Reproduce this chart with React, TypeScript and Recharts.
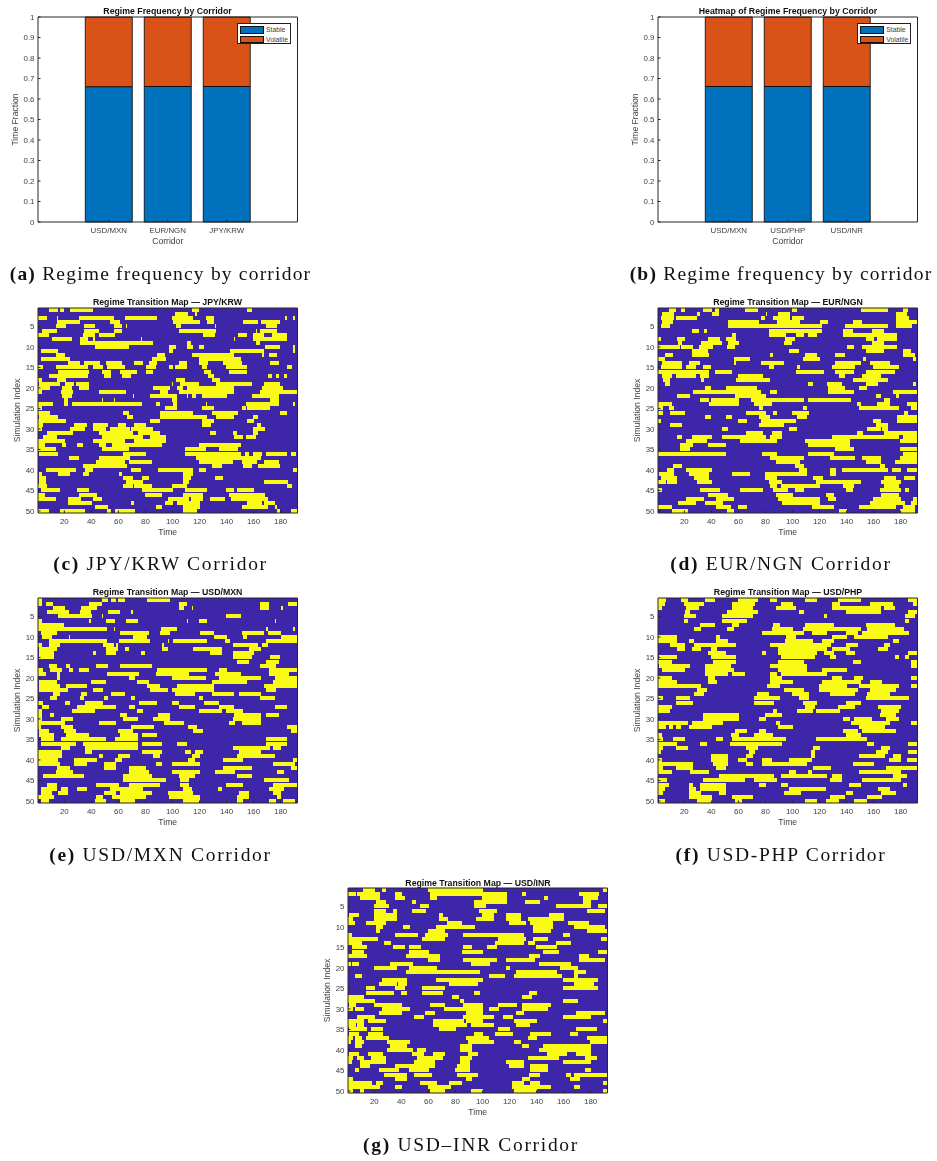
import React from 'react';
import { BarChart, Bar, XAxis, YAxis, CartesianGrid } from 'recharts';

// stacked bars
const CORRIDORS_A = ['USD/MXN', 'EUR/NGN', 'JPY/KRW'];
const CORRIDORS_B = ['USD/MXN', 'USD/PHP', 'USD/INR'];
const STABLE_A = [0.66, 0.661, 0.661];
const VOLATILE_A = [0.34, 0.339, 0.339];
const STABLE_B = [0.661, 0.661, 0.661];
const VOLATILE_B = [0.339, 0.339, 0.339];

const FRACTION_TICKS = [0, 0.1, 0.2, 0.3, 0.4, 0.5, 0.6, 0.7, 0.8, 0.9, 1];
const TIME_TICKS = [20, 40, 60, 80, 100, 120, 140, 160, 180];
const SIM_TICKS = [5, 10, 15, 20, 25, 30, 35, 40, 45, 50];

// volatile spells per simulation, flat start,end pairs
const JPY_KRW: number[][] = [
  [9,15,17,19,25,41,115,119,156,158],
  [102,111,117,118],
  [1,7,15,15,31,56,65,88,100,115,125,130,184,184,190,190],
  [15,31,54,61,101,120,126,130,153,163,166,179],
  [14,21,35,42,57,62,66,66,103,106,132,132,170,177],
  [4,14,35,45,57,62,105,132,162,162,165,177],
  [1,8,34,42,46,57,123,131,149,155,160,167,174,184],
  [11,25,32,37,42,42,77,77,146,146,160,184],
  [32,85,111,113,162,164],
  [43,62,63,67,98,102,111,115,120,123,169,179,190,190],
  [3,15,98,100,143,167,190,190],
  [14,20,89,94,115,145,167,167,172,177],
  [3,24,85,95,120,150],
  [23,31,35,46,51,62,72,78,83,88,105,110,120,126,138,151,173,178],
  [1,4,14,37,42,48,52,64,81,87,98,100,102,110,122,125,140,155,185,188],
  [16,38,48,54,62,73,81,85,124,128,142,155],
  [9,37,50,54,63,69,127,130,171,173,177,178,183,184],
  [1,3,15,21,103,109,130,135],
  [2,16,21,27,29,38,100,100,106,119,133,158,168,179],
  [1,9,19,25,31,38,86,98,104,107,111,145,167,181],
  [1,3,18,26,46,65,91,96,105,145,165,192],
  [19,25,71,71,84,103,111,111,115,117,122,140,159,178],
  [20,22,48,48,57,57,100,103,173,178],
  [1,11,20,22,26,77,88,90,101,103,125,125,155,178,190,190],
  [1,3,95,103,122,130,152,154,156,172],
  [1,9,64,67,91,115,130,148,180,184],
  [2,15,67,70,91,125,133,145,160,163],
  [1,21,84,90,122,130,156,160],
  [1,4,28,36,42,52,60,65,72,80,122,128,163,165],
  [1,3,25,35,42,50,54,68,70,85,160,168],
  [8,26,46,70,75,90,128,132,145,147,160,163],
  [5,14,48,78,84,95,146,152,155,161],
  [1,20,42,64,72,95],
  [1,5,19,21,30,33,46,50,56,92,120,150],
  [1,13,48,67,110,124,135,148],
  [2,15,64,80,110,150,154,156,160,166,170,184,188,191],
  [24,30,46,68,118,165],
  [44,64,68,84,120,144,152,162,168,178],
  [34,66,130,136,153,158,164,179],
  [7,28,36,41,70,76,90,115,120,124,190,192],
  [2,3,16,24,34,38,61,62,108,115],
  [2,6,64,70,78,82,108,113,132,137],
  [2,6,66,78,108,112,168,185],
  [1,7,64,70,72,84,100,110,185,188],
  [3,16,30,38,78,100,110,125,140,145,148,160],
  [1,5,31,44,80,92,108,122,142,168],
  [1,13,23,32,42,47,97,112,114,122,128,138,144,170],
  [23,40,70,71,95,100,104,120,156,166,168,175],
  [43,52,88,92,108,120,152,170,176,177],
  [1,8,17,35,52,54,58,72,108,118,178,179,188,192],
];

const EUR_NGN: number[][] = [
  [9,13,18,20,34,40,43,45,65,74,100,103,151,170,182,185],
  [4,12,30,31,41,45,81,81,90,98,177,184],
  [3,12,14,29,77,79,86,98,100,108,177,186],
  [4,11,53,75,89,105,121,126,145,151,177,192],
  [3,9,53,121,139,170,177,188],
  [26,30,35,36,83,121,138,144,159,167],
  [56,58,83,95,103,108,112,118,138,177],
  [1,2,15,20,38,46,51,58,95,101,155,160,163,177],
  [16,18,33,47,53,60,94,99,159,167],
  [1,16,18,26,31,41,52,57,141,145,152,177],
  [26,37,98,104,155,167,182,187],
  [6,11,26,38,84,85,110,118,132,138,182,190],
  [1,5,57,68,108,120,153,154,190,191],
  [4,18,24,31,57,58,77,93,132,150,158,172],
  [3,18,22,28,34,39,83,86,104,105,130,146,160,178],
  [1,20,21,38,43,55,103,123,132,145,155,175],
  [4,10,14,28,32,38,60,78,135,138,152,165],
  [5,9,33,34,59,83,145,170],
  [6,9,112,115,126,136,155,163,190,191],
  [36,39,51,73,127,138,150,155],
  [27,55,56,76,84,88,127,145,175,192],
  [15,24,58,80,162,165,177,178],
  [32,38,40,60,70,108,112,143,168,172],
  [1,10,39,60,72,84,148,150,163,172,185,192],
  [1,4,9,12,76,78,108,110,150,178,188,192],
  [1,4,10,20,66,80,86,88,100,112,183,185],
  [36,39,51,55,76,83,104,110,178,192],
  [1,2,60,66,77,102,160,165,178,192],
  [10,18,76,93,162,170],
  [48,52,98,103,156,165,167,170],
  [66,78,85,92,148,152,168,192],
  [15,18,26,40,48,80,84,92,130,178,182,192],
  [22,36,62,88,110,142,180,192],
  [17,26,38,50,112,142],
  [17,24,132,145,180,192],
  [1,36,36,50,78,88,112,130,182,192],
  [84,108,128,146,152,165,180,192],
  [88,105,155,165,176,192],
  [12,18,102,108,165,168],
  [8,12,22,40,105,110,128,132,137,170,174,180,185,192],
  [2,12,24,38,56,68,80,110,128,132],
  [3,14,28,38,80,88,116,122,168,176,183,190],
  [1,6,8,14,30,40,83,92,118,150,166,180],
  [84,88,92,120,138,145,168,178],
  [1,3,32,46,62,78,86,96,102,108,140,144,165,180,184,186],
  [38,52,88,100,125,130,166,178],
  [22,34,44,56,90,120,127,132,160,180,190,192],
  [16,28,36,48,93,120,158,183,188,192],
  [1,10,44,54,60,66,115,130,150,176,182,190],
  [11,22,52,56,135,140,180,190],
];

const USD_MXN: number[][] = [
  [1,3,48,52,55,58,60,64,82,98],
  [1,3,7,11,39,47,105,110,165,171,186,192],
  [12,20,33,44,105,108,115,115,165,171,181,181],
  [8,23,32,39,53,61,70,70],
  [16,40,48,48,140,150],
  [1,3,39,39,51,57,66,74,111,111,120,125,176,176],
  [1,19],
  [1,40,41,51,57,57,92,103,170,170,190,190],
  [3,14,62,82,91,98,121,130,152,167,171,180],
  [4,10,24,24,71,81,131,140,153,155,181,192],
  [9,51,61,83,97,97,101,125,139,142,170,192],
  [1,3,9,16,49,56,59,59,93,93,145,163,167,170],
  [2,14,51,59,65,67,93,96,116,136,157,165],
  [2,12,42,43,51,58,77,79,128,136,145,160],
  [2,12,145,158,173,179],
  [148,156,170,178],
  [9,14,22,24,44,52,62,84,165,176],
  [1,4,10,18,24,26,31,38,89,125,135,140,172,192],
  [1,6,15,16,52,75,88,112,132,150,172,186],
  [15,16,68,72,100,124,135,165,176,192],
  [2,14,40,50,74,82,130,155,175,192],
  [2,16,22,36,82,90,104,130,168,192],
  [2,22,42,48,84,96,100,130,170,176],
  [12,16,33,36,55,64,102,116,130,145,150,165],
  [10,14,32,34,50,52,70,72,120,122,165,175],
  [1,4,21,24,36,48,76,88,100,104,124,134],
  [4,8,30,58,68,72,105,116,135,145,176,184],
  [1,3,26,42,74,78,120,136,140,152],
  [1,3,10,12,62,66,90,98,146,165,170,178],
  [1,3,18,26,64,74,86,98,145,165],
  [1,20,46,58,94,108,142,146,152,165],
  [1,2,18,26,70,86,112,118,185,192],
  [2,8,20,28,60,70,116,122,188,192],
  [2,12,22,38,62,74,78,88],
  [3,12,18,50,58,74,170,184],
  [3,28,34,74,78,92,104,110,170,184],
  [18,24,36,74,145,172,175,180],
  [1,18,36,40,78,92,110,113,117,122,150,165],
  [1,18,46,48,60,68,86,90,115,120,148,175],
  [1,15,28,44,58,62,112,116,138,152,190,192],
  [1,16,28,36,50,58,88,92,100,120,175,190],
  [15,24,50,58,68,80,138,158,188,192],
  [14,26,68,82,100,120,132,146,178,182],
  [5,34,64,84,105,116,148,158],
  [64,95,106,112,168,186],
  [8,14,44,60,68,90,106,112,140,152,175,192],
  [3,14,18,22,30,36,54,78,108,114,134,136,172,182],
  [3,10,16,22,50,58,62,84,97,115,150,156,175,180],
  [1,12,44,48,56,80,98,120,148,156,178,180],
  [3,8,43,50,62,72,108,120,148,152,172,176,182,190],
];

const USD_PHP: number[][] = [
  [1,6,18,22,36,42,60,74,84,88,110,118,134,150,186,192],
  [1,5,20,34,56,72,92,100,130,135,158,174,190,192],
  [1,3,22,30,56,70,88,102,130,165,168,175],
  [21,24,52,74,105,108,140,165,186,192],
  [20,28,48,70,124,125,184,190],
  [20,22,48,66,184,186],
  [32,42,56,60,86,90,110,130,155,175],
  [28,32,52,56,85,100,108,150,156,182],
  [78,108,115,125,140,148,152,186],
  [1,14,44,46,96,102,130,140,146,170],
  [1,14,24,27,44,52,95,115,122,130,175,178],
  [10,20,28,58,84,128,140,148,168,172],
  [15,20,26,32,40,44,90,125,130,142,164,170],
  [38,50,78,80,90,118,124,130,140,146,186,192],
  [2,14,40,58,92,116,128,132,176,178,184,186],
  [1,10,42,58,90,108,145,150,188,192],
  [2,24,36,54,84,110,188,192],
  [4,20,36,56,90,110,122,140],
  [36,52,56,64,84,88,92,125],
  [1,10,38,42,84,92,130,136,146,152,188,192],
  [1,14,38,44,84,100,122,150,158,166],
  [1,32,82,90,120,140,150,178,188,192],
  [30,36,94,108,120,148,158,176],
  [28,34,74,82,100,112,128,146,156,172],
  [1,4,14,24,72,90,105,112,155,186],
  [14,26,72,86,108,118,140,150],
  [1,10,110,116,134,146,164,180],
  [1,9,86,88,104,115,118,135,166,178],
  [34,60,80,92,165,176],
  [34,60,76,80,138,142,146,158,170,178],
  [1,22,26,48,88,90,144,172,188,192],
  [1,6,9,11,14,17,24,40,90,100,150,168],
  [58,66,76,80,138,148,152,176],
  [1,3,55,60,72,85,140,150],
  [1,4,12,20,44,48,56,95,118,155],
  [1,14,32,36,54,92,156,160,186,192],
  [1,4,14,22,66,74,116,120,166,172],
  [1,2,68,72,114,116,162,170,186,192],
  [40,52,66,70,114,116,150,168,175,180],
  [1,3,40,52,60,66,78,84,98,114,172,180,185,192],
  [1,26,42,52,66,70,78,110,145,160],
  [1,4,14,26,44,50,116,128,170,192],
  [1,10,25,38,98,102,112,114,150,180],
  [46,86,92,125,130,136,175,184],
  [1,7,34,64,72,88,128,136,152,180],
  [1,8,24,26,32,50,76,80,92,96,142,150,182,184],
  [1,5,24,28,32,50,98,124,164,172],
  [1,4,24,32,46,50,94,106,140,144,166,176],
  [24,40,56,70,128,138,156,166],
  [2,5,30,40,58,62,110,118,125,134,146,155],
];

const USD_INR: number[][] = [
  [12,20,26,28,60,100,190,192],
  [1,6,8,24,36,40,62,118,130,132,172,186],
  [10,24,36,42,62,66,100,118,146,148,175,185],
  [22,28,48,50,94,118,132,142,175,180],
  [20,30,54,60,94,102,155,180,186,192],
  [20,28,34,36,48,58,98,110,178,190],
  [2,8,20,36,68,70,100,108,118,128,150,160],
  [1,4,20,36,68,74,96,108,118,128,134,160],
  [1,5,14,28,74,84,120,132,136,152,164,178],
  [22,26,42,46,66,94,138,152,168,190],
  [22,24,60,72,138,150,178,192],
  [1,3,36,52,58,74,86,130,160,164],
  [1,22,56,72,112,132,138,148,188,192],
  [1,10,28,32,110,130,134,138,155,165],
  [4,14,34,42,46,54,86,92,104,110,140,155],
  [4,12,46,60,85,100,145,156,186,192],
  [1,14,44,68,135,142,172,178],
  [60,68,86,110,118,138,172,190],
  [1,2,4,8,32,48,92,105,142,165],
  [20,36,46,66,118,120,158,170],
  [44,76,74,98,125,155,168,176],
  [6,10,105,116,124,158,168,170],
  [26,44,66,100,160,185],
  [24,36,38,44,76,96,168,182],
  [14,20,36,42,56,72,160,185],
  [14,34,40,44,56,70,94,98,135,140],
  [1,12,78,82,130,136],
  [1,5,6,20,84,86,160,170],
  [2,6,20,40,62,72,86,100,112,125,130,150],
  [1,4,6,12,26,46,72,100,105,112,130,148],
  [24,40,58,64,88,100,125,130,170,190],
  [8,20,50,56,86,108,116,122,160,180],
  [1,12,16,28,64,86,88,100,124,140,190,192],
  [1,6,8,12,64,88,92,108,125,135],
  [2,14,18,26,68,80,112,120,170,184],
  [2,8,16,26,94,100,110,122,136,150,165,170],
  [1,4,6,10,14,30,88,104,134,140,178,192],
  [1,2,6,12,30,46,90,108,124,128,180,192],
  [6,10,32,44,84,92,130,134,145,180],
  [30,48,52,58,84,92,142,180],
  [2,8,16,26,48,56,64,72,90,96,148,162,170,180],
  [1,4,8,12,18,28,52,70,84,92,134,156,176,184],
  [1,3,10,28,50,64,84,90,118,130,160,180],
  [10,16,36,64,82,90,120,130,136,148],
  [6,8,24,38,46,60,80,90,136,148,176,180],
  [28,44,50,62,82,96,135,142,162,165,168,192],
  [1,4,36,44,88,92,130,135,165,172],
  [1,18,22,26,54,66,76,84,122,130,136,142,190,192],
  [1,24,36,40,60,76,122,150,168,172],
  [1,4,10,12,62,72,92,100,124,140,190,192],
];

const PURPLE = '#3e26a8';
const YELLOW = '#f9fb15';
const BLUE = '#0072bd';
const ORANGE = '#d95319';
const AXIS = '#404040';
const FONT = '"Liberation Sans", Arial, sans-serif';
const tickStyle = { fontSize: 7.9, fontFamily: FONT, fill: AXIS };
const labelStyle = { fontSize: 8.6, fontFamily: FONT, fill: AXIS };

const Title = ({ text, x, y }: { text: string; x: number; y: number }) => (
  <div style={{ position: 'absolute', left: x - 150, top: y, width: 300, textAlign: 'center', font: `bold 8.75px ${FONT}`, color: '#111', whiteSpace: 'nowrap' }}>
    {text}
  </div>
);

const Caption = ({ tag, text, x, y, spacing }: { tag: string; text: string; x: number; y: number; spacing: number }) => (
  <div style={{ position: 'absolute', left: x - 200, top: y, width: 400, textAlign: 'center', fontFamily: '"Liberation Serif", serif', fontSize: 19.5, letterSpacing: spacing, color: '#111', whiteSpace: 'nowrap' }}>
    <b>{tag}</b> {text}
  </div>
);

const LegendBox = () => (
  <div style={{ position: 'absolute', left: 237, top: 18, width: 54, height: 21, border: '1px solid #222', background: '#fff', boxSizing: 'border-box', padding: '1px 2px', font: `6.8px ${FONT}`, color: AXIS }}>
    {[['Stable', BLUE], ['Volatile', ORANGE]].map(([name, color]) => (
      <div key={name} style={{ display: 'flex', alignItems: 'center', height: 9.5 }}>
        <span style={{ display: 'inline-block', width: 24, height: 7.5, background: color, border: '1px solid #111', boxSizing: 'border-box', marginRight: 2 }} />
        {name}
      </div>
    ))}
  </div>
);

const FrequencyPanel = ({ names, stable, volatile, left }: { names: string[]; stable: number[]; volatile: number[]; left: number }) => {
  const data = names.map((name, i) => ({ pos: i + 1, name, stable: stable[i], volatile: volatile[i] }));
  return (
    <div style={{ position: 'absolute', left: left - 38, top: 5 }}>
      <BarChart width={300} height={247} data={data} margin={{ top: 11, right: 1.5, bottom: 0, left: 0 }} barSize={47}>
        <XAxis dataKey="pos" type="number" domain={[-0.2, 4.2]} ticks={[1, 2, 3]} tickFormatter={(v: number) => names[v - 1]}
          height={30} tickSize={-2.5} tickMargin={8} stroke="#262626" tick={tickStyle} allowDataOverflow
          label={{ value: 'Corridor', position: 'insideBottom', offset: 8, style: labelStyle }} />
        <XAxis xAxisId="top" orientation="top" type="number" domain={[-0.2, 4.2]} ticks={[1, 2, 3]} height={1} tick={false} tickSize={-2.5} stroke="#262626" />
        <YAxis domain={[0, 1]} ticks={FRACTION_TICKS} width={38} tickSize={-2.5} tickMargin={6} stroke="#262626" tick={tickStyle} interval={0}
          label={{ value: 'Time Fraction', angle: -90, position: 'insideLeft', offset: 15, style: { ...labelStyle, textAnchor: 'middle' } }} />
        <YAxis yAxisId="right" orientation="right" domain={[0, 1]} ticks={FRACTION_TICKS} width={1} tick={false} tickSize={-2.5} stroke="#262626" />
        <Bar dataKey="stable" stackId="t" fill={BLUE} stroke="#000" strokeWidth={0.8} isAnimationActive={false} />
        <Bar dataKey="volatile" stackId="t" fill={ORANGE} stroke="#000" strokeWidth={0.8} isAnimationActive={false} />
      </BarChart>
      <LegendBox />
    </div>
  );
};

const toRows = (runs: number[][]) =>
  runs.map((row, i) => {
    const out: Record<string, number> = { row: i + 1 };
    let pos = 0;
    for (let k = 0; k < row.length; k += 2) {
      const from = Math.max(row[k] - 0.5, pos);
      const to = Math.max(row[k + 1] + 0.5, from);
      out[`g${k}`] = from - pos;
      out[`y${k}`] = to - from;
      pos = to;
    }
    return out;
  });

const RegimeMap = ({ runs, left, top }: { runs: number[][]; left: number; top: number }) => {
  const maxLen = Math.max(...runs.map((r) => r.length));
  const keys = Array.from({ length: maxLen / 2 }, (_, i) => i * 2);
  return (
    <div style={{ position: 'absolute', left: left - 38, top: top - 12 }}>
      <BarChart width={300} height={247} data={toRows(runs)} layout="vertical" barCategoryGap={0} margin={{ top: 11, right: 1.5, bottom: 0, left: 0 }}>
        <CartesianGrid horizontal={false} vertical={false} fill={PURPLE} />
        <XAxis type="number" domain={[0.5, 192.5]} ticks={TIME_TICKS} height={30} tickSize={-2.5} tickMargin={8} stroke="#262626" tick={tickStyle} allowDataOverflow
          label={{ value: 'Time', position: 'insideBottom', offset: 8, style: labelStyle }} />
        <XAxis xAxisId="top" orientation="top" type="number" domain={[0.5, 192.5]} height={1} tick={false} tickLine={false} stroke="#262626" />
        <YAxis type="category" dataKey="row" ticks={SIM_TICKS} interval={0} width={38} tickSize={-2.5} tickMargin={6} stroke="#262626" tick={tickStyle}
          label={{ value: 'Simulation Index', angle: -90, position: 'insideLeft', offset: 17, style: { ...labelStyle, textAnchor: 'middle' } }} />
        <YAxis yAxisId="right" orientation="right" type="number" domain={[0, 1]} width={1} tick={false} tickLine={false} stroke="#262626" />
        {keys.flatMap((k) => [
          <Bar key={`g${k}`} dataKey={`g${k}`} stackId="r" fill="none" isAnimationActive={false} />,
          <Bar key={`y${k}`} dataKey={`y${k}`} stackId="r" fill={YELLOW} shapeRendering="crispEdges" isAnimationActive={false} />,
        ])}
      </BarChart>
    </div>
  );
};

export default function App() {
  return (
    <div style={{ position: 'absolute', left: 0, top: 0, width: 937, height: 1161, background: '#fff', overflow: 'hidden' }}>
      <div style={{ position: 'absolute', inset: 0, filter: 'blur(0.3px)' }}>
        <Title text="Regime Frequency by Corridor" x={167.5} y={6} />
        <FrequencyPanel names={CORRIDORS_A} stable={STABLE_A} volatile={VOLATILE_A} left={38} />
        <Title text="Heatmap of Regime Frequency by Corridor" x={788} y={6} />
        <FrequencyPanel names={CORRIDORS_B} stable={STABLE_B} volatile={VOLATILE_B} left={658.3} />

        <Title text="Regime Transition Map — JPY/KRW" x={167.5} y={297} />
        <RegimeMap runs={JPY_KRW} left={38} top={307.5} />
        <Title text="Regime Transition Map — EUR/NGN" x={788} y={297} />
        <RegimeMap runs={EUR_NGN} left={658.3} top={307.5} />
        <Title text="Regime Transition Map — USD/MXN" x={167.5} y={587} />
        <RegimeMap runs={USD_MXN} left={38} top={597.7} />
        <Title text="Regime Transition Map — USD/PHP" x={788} y={587} />
        <RegimeMap runs={USD_PHP} left={658.3} top={597.7} />
        <Title text="Regime Transition Map — USD/INR" x={478} y={878} />
        <RegimeMap runs={USD_INR} left={348.3} top={888.3} />

        <Caption tag="(a)" text="Regime frequency by corridor" x={160.5} y={263} spacing={1.2} />
        <Caption tag="(b)" text="Regime frequency by corridor" x={781} y={263} spacing={1.2} />
        <Caption tag="(c)" text="JPY/KRW Corridor" x={160.5} y={553} spacing={1.7} />
        <Caption tag="(d)" text="EUR/NGN Corridor" x={781} y={553} spacing={1.7} />
        <Caption tag="(e)" text="USD/MXN Corridor" x={160.5} y={844} spacing={1.7} />
        <Caption tag="(f)" text="USD-PHP Corridor" x={781} y={844} spacing={1.7} />
        <Caption tag="(g)" text="USD–INR Corridor" x={471} y={1134} spacing={1.7} />
      </div>
    </div>
  );
}
